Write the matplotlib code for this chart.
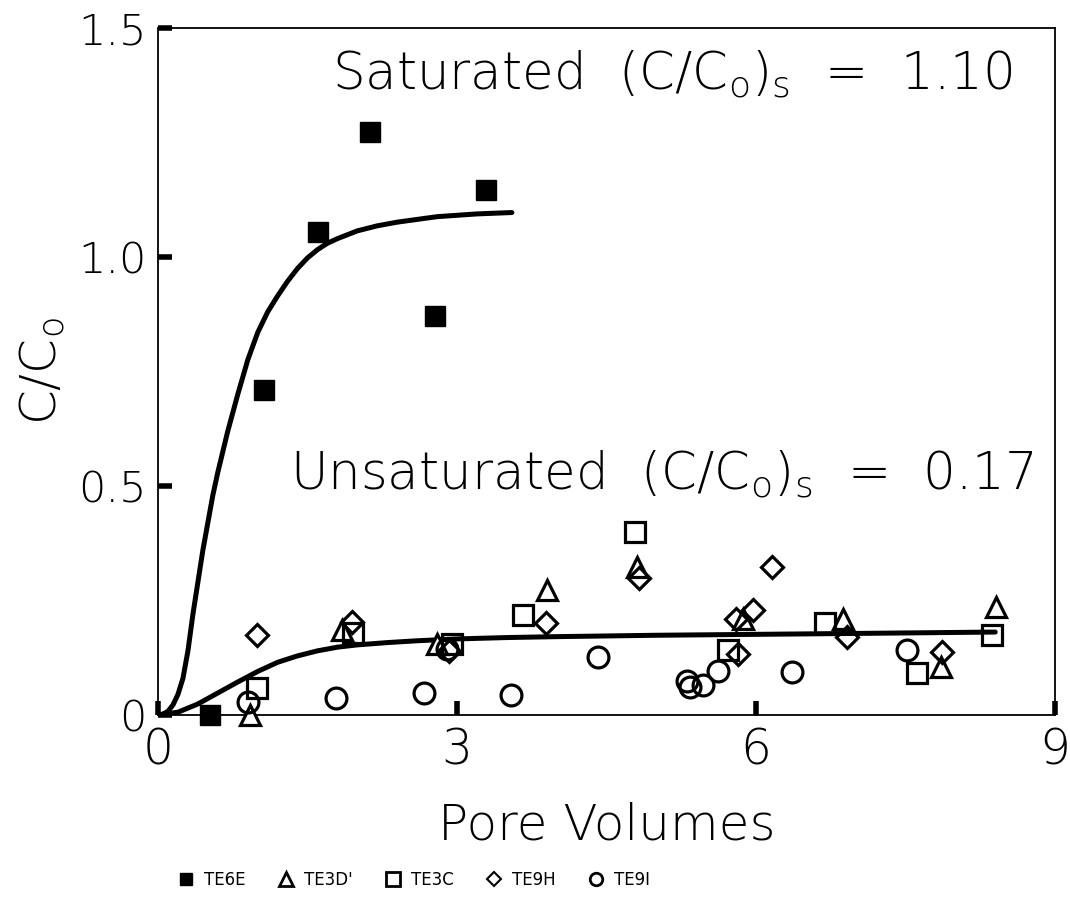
import matplotlib
matplotlib.use("Agg")
import matplotlib.pyplot as plt
from matplotlib.lines import Line2D

plt.rcParams['font.family'] = ['DejaVu Sans']
plt.rcParams['font.weight'] = 'light'
plt.rcParams['mathtext.fontset'] = 'custom'
plt.rcParams['mathtext.rm'] = 'DejaVu Sans:light'
plt.rcParams['mathtext.it'] = 'DejaVu Sans:light'

# measured points
te6e_x = [0.52, 1.06, 1.60, 2.13, 2.78, 3.29]
te6e_y = [0.00, 0.71, 1.055, 1.273, 0.871, 1.146]

te3d_x = [0.92, 1.85, 2.80, 3.90, 4.81, 5.87, 6.87, 7.86, 8.41]
te3d_y = [0.00, 0.186, 0.155, 0.273, 0.323, 0.21, 0.21, 0.105, 0.236]

te3c_x = [0.99, 1.96, 2.95, 3.66, 4.79, 5.72, 6.69, 7.62, 8.37]
te3c_y = [0.059, 0.178, 0.155, 0.218, 0.40, 0.142, 0.20, 0.092, 0.175]

te9h_x = [0.99, 1.95, 2.92, 3.89, 4.83, 5.80, 5.97, 5.82, 6.16, 6.91, 7.87]
te9h_y = [0.175, 0.203, 0.14, 0.20, 0.30, 0.21, 0.23, 0.133, 0.323, 0.17, 0.138]

te9i_x = [0.90, 1.79, 2.90, 2.67, 3.54, 4.41, 5.31, 5.34, 5.47, 5.62, 6.36, 7.51]
te9i_y = [0.028, 0.037, 0.145, 0.048, 0.044, 0.127, 0.075, 0.06, 0.065, 0.095, 0.094, 0.142]

sat_x = [0.0, 0.05, 0.1, 0.15, 0.2, 0.25, 0.3, 0.35, 0.4, 0.45, 0.5, 0.55, 0.6,
         0.7, 0.8, 0.9, 1.0, 1.1, 1.2, 1.3, 1.4, 1.5, 1.6, 1.7, 1.8, 2.0, 2.2,
         2.4, 2.8, 3.2, 3.55]
sat_y = [0.0, 0.002, 0.008, 0.022, 0.045, 0.08, 0.14, 0.22, 0.29, 0.36, 0.42,
         0.48, 0.53, 0.62, 0.70, 0.775, 0.835, 0.88, 0.915, 0.947, 0.975,
         0.998, 1.016, 1.03, 1.04, 1.057, 1.068, 1.076, 1.088, 1.094, 1.097]

unsat_x = [0.0, 0.2, 0.4, 0.6, 0.8, 1.0, 1.2, 1.4, 1.6, 1.8, 2.0, 2.3, 2.6,
           3.0, 3.5, 4.0, 5.0, 6.0, 7.0, 8.4]
unsat_y = [0.0, 0.006, 0.024, 0.048, 0.072, 0.095, 0.115, 0.129, 0.14, 0.148,
           0.153, 0.158, 0.162, 0.166, 0.169, 0.171, 0.174, 0.176, 0.178, 0.181]

fig = plt.figure(figsize=(10.7, 9.23), dpi=100)
ax = fig.add_axes([0.1477, 0.2254, 0.8383, 0.7443])

ax.plot(sat_x, sat_y, color='black', lw=3.6, solid_capstyle='round', zorder=2)
ax.plot(unsat_x, unsat_y, color='black', lw=3.6, solid_capstyle='round', zorder=2)

ms = 15
mew = 2.3
ax.plot(te6e_x, te6e_y, 's', ms=14, color='black', clip_on=False, zorder=3)
ax.plot(te3d_x, te3d_y, '^', ms=ms, mfc='white', mec='black', mew=mew, clip_on=False, zorder=3)
ax.plot(te3c_x, te3c_y, 's', ms=ms, mfc='none', mec='black', mew=mew, clip_on=False, zorder=3)
ax.plot(te9h_x, te9h_y, 'D', ms=11.5, mfc='none', mec='black', mew=mew, clip_on=False, zorder=3)
ax.plot(te9i_x, te9i_y, 'o', ms=ms, mfc='none', mec='black', mew=mew, clip_on=False, zorder=3)

ax.set_xlim(0, 9)
ax.set_ylim(0, 1.5)
ax.set_xticks([0, 3, 6, 9])
ax.set_yticks([0, 0.5, 1.0, 1.5])
ax.set_yticklabels(['0', '0.5', '1.0', '1.5'])
ax.tick_params(direction='in', length=10, width=4, labelsize=31, pad=8)
ax.tick_params(axis='x', labelsize=35, pad=8)
for s in ax.spines.values():
    s.set_linewidth(1.3)

ax.set_xlabel('Pore Volumes', fontsize=36, fontweight='light', labelpad=20)
ax.set_ylabel('C/C$_\\mathrm{o}$', fontsize=36, fontweight='light', labelpad=8)

ax.text(1.75, 1.40, 'Saturated  (C/C$_\\mathrm{o}$)$_\\mathrm{s}$  =  1.10',
        fontsize=37, va='center', ha='left')
ax.text(1.32, 0.525, 'Unsaturated  (C/C$_\\mathrm{o}$)$_\\mathrm{s}$  =  0.17',
        fontsize=37, va='center', ha='left')

handles = [
    Line2D([], [], ls='', marker='s', ms=9, color='black'),
    Line2D([], [], ls='', marker='^', ms=10, mfc='none', mec='black', mew=2),
    Line2D([], [], ls='', marker='s', ms=10, mfc='none', mec='black', mew=2),
    Line2D([], [], ls='', marker='D', ms=7, mfc='none', mec='black', mew=1.5),
    Line2D([], [], ls='', marker='o', ms=9, mfc='none', mec='black', mew=2),
]
labels = ['TE6E', "TE3D'", 'TE3C', 'TE9H', 'TE9I']
fig.legend(handles, labels, loc='center left', bbox_to_anchor=(0.152, 0.047),
           ncol=5, frameon=False, prop={'size': 12, 'weight': 'normal'},
           handletextpad=0.6, columnspacing=1.9, handlelength=1.0)

fig.savefig('out.png', dpi=100)
